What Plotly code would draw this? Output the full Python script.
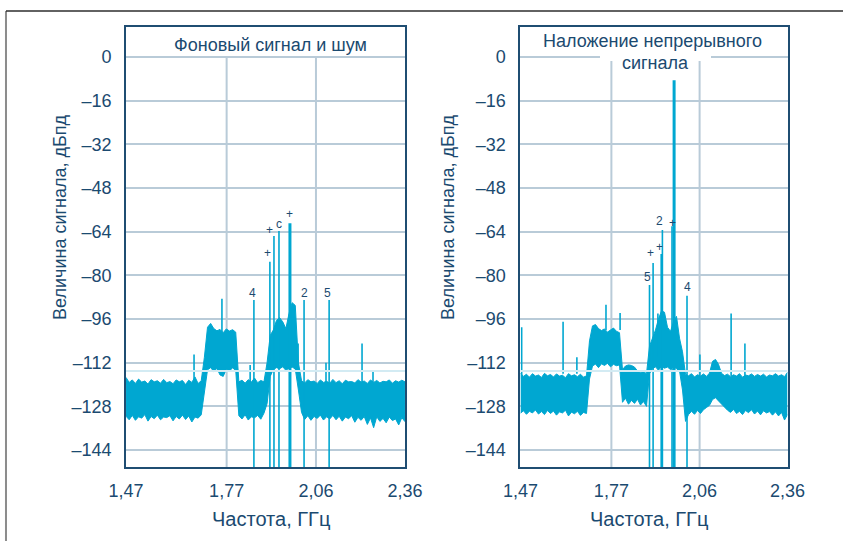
import plotly.graph_objects as go

# ---------------------------------------------------------------- data
# frequency grid of the spectrum envelope, GHz
freq = [
    1.47, 1.48, 1.49, 1.50, 1.51, 1.52, 1.53, 1.54, 1.55, 1.56,
    1.57, 1.58, 1.59, 1.60, 1.61, 1.62, 1.63, 1.64, 1.65, 1.66,
    1.67, 1.68, 1.69, 1.70, 1.71, 1.72, 1.73, 1.74, 1.75, 1.76,
    1.77, 1.78, 1.79, 1.80, 1.81, 1.82, 1.83, 1.84, 1.85, 1.86,
    1.87, 1.88, 1.89, 1.90, 1.91, 1.92, 1.93, 1.94, 1.95, 1.96,
    1.97, 1.98, 1.99, 2.00, 2.01, 2.02, 2.03, 2.04, 2.05, 2.06,
    2.07, 2.08, 2.09, 2.10, 2.11, 2.12, 2.13, 2.14, 2.15, 2.16,
    2.17, 2.18, 2.19, 2.20, 2.21, 2.22, 2.23, 2.24, 2.25, 2.26,
    2.27, 2.28, 2.29, 2.30, 2.31, 2.32, 2.33, 2.34, 2.35, 2.36,
]

# background signal and noise: upper / lower edge of the spectrum band, dBFS
bg_upper = [
    -117.4, -119.2, -118.3, -119.6, -118.0, -119.1, -118.7, -119.8, -118.2, -119.0,
    -118.6, -119.5, -118.1, -119.3, -118.9, -119.7, -118.3, -119.0, -118.5, -120.0,
    -118.4, -119.2, -117.2, -119.6, -118.6, -110.0, -99.0, -97.6, -99.5, -100.3,
    -99.8, -101.0, -99.6, -100.4, -99.9, -100.8, -119.0, -118.4, -119.5, -118.2,
    -119.1, -117.6, -119.3, -118.5, -119.0, -112.0, -102.0, -100.0, -96.5, -95.5,
    -97.0, -99.5, -94.0, -90.0, -91.0, -112.0, -118.6, -119.4, -118.2, -119.0,
    -118.7, -119.6, -118.3, -119.2, -118.8, -119.5, -118.1, -119.3, -118.6, -119.7,
    -118.4, -119.0, -118.9, -119.4, -118.2, -119.1, -118.7, -119.6, -118.3, -119.2,
    -118.5, -119.4, -118.8, -119.0, -118.3, -119.5, -118.6, -119.1, -118.4, -119.0,
]
bg_lower = [
    -131.6, -132.9, -131.3, -133.1, -131.8, -132.3, -131.0, -133.4, -131.7, -132.5,
    -131.2, -132.9, -131.9, -132.1, -131.4, -133.3, -131.7, -132.6, -131.2, -132.8,
    -131.5, -133.7, -131.9, -132.3, -131.1, -122.0, -114.6, -113.8, -115.2, -114.1,
    -116.5, -117.0, -114.4, -115.0, -113.9, -114.8, -131.4, -132.6, -131.1, -133.0,
    -131.8, -132.2, -131.3, -132.7, -130.5, -127.0, -117.0, -114.5, -113.8, -114.2,
    -113.5, -114.8, -114.0, -113.6, -114.3, -122.0, -130.2, -132.8, -131.4, -133.1,
    -131.7, -132.4, -131.2, -133.0, -131.8, -132.6, -131.3, -132.9, -131.6, -133.4,
    -131.9, -132.5, -131.4, -133.8, -132.0, -133.1, -131.7, -134.6, -132.2, -135.8,
    -131.8, -133.5, -132.4, -134.0, -131.9, -133.2, -132.6, -134.8, -132.1, -133.6,
]

# with the continuous-wave tone applied
cw_upper = [
    -115.8, -117.0, -116.2, -117.3, -116.0, -116.9, -116.5, -117.4, -115.9, -116.8,
    -116.3, -117.2, -116.1, -116.9, -116.6, -117.5, -116.0, -116.8, -116.4, -117.1,
    -116.2, -117.3, -116.8, -104.0, -98.5, -98.0, -99.5, -100.2, -99.6, -100.8,
    -100.0, -99.3, -100.5, -101.0, -114.5, -113.2, -112.8, -113.0, -113.6, -115.0,
    -115.6, -115.2, -116.0, -106.0, -103.0, -100.0, -96.0, -93.0, -93.5, -99.0,
    -100.5, -97.0, -95.0, -103.0, -108.0, -116.2, -116.8, -116.0, -117.2, -116.4,
    -116.9, -116.1, -117.0, -115.8, -111.5, -110.8, -112.6, -115.9, -116.7, -116.2,
    -117.1, -116.4, -116.9, -116.0, -117.3, -116.5, -116.8, -116.1, -117.0, -116.3,
    -116.9, -116.2, -117.2, -116.5, -116.8, -116.0, -116.9, -116.4, -117.1, -115.5,
]
cw_lower = [
    -130.5, -129.6, -130.9, -129.8, -130.4, -129.3, -130.8, -129.9, -131.0, -129.5,
    -130.6, -129.7, -131.2, -130.0, -130.4, -129.4, -131.5, -130.1, -130.7, -129.8,
    -131.3, -130.2, -130.6, -118.0, -113.2, -112.5, -113.8, -112.4, -113.0, -112.2,
    -113.5, -112.6, -113.1, -112.8, -126.5, -125.0, -127.2, -125.8, -126.9, -125.4,
    -127.5, -126.2, -128.0, -116.0, -114.2, -113.5, -114.8, -113.2, -114.0, -113.6,
    -114.5, -113.4, -114.2, -115.0, -122.0, -133.5, -131.0, -129.8, -130.9, -129.5,
    -130.6, -129.2, -128.4, -127.6, -125.5, -124.8, -126.0, -127.2, -128.5, -129.4,
    -130.2, -129.1, -130.6, -129.8, -131.0, -129.5, -130.3, -129.2, -130.8, -129.7,
    -131.1, -129.6, -130.4, -129.9, -131.2, -130.0, -131.5, -130.2, -133.0, -131.0,
]

# discrete spurs: frequency, peak level and the level the line starts from
bg_spur_freq = [1.687, 1.776, 1.866, 1.878, 1.929, 1.942, 1.958, 2.019, 2.038, 2.108, 2.118, 2.223, 2.258]
bg_spur_peak = [-109.0, -88.6, -112.8, -89.0, -75.0, -65.6, -63.7, -105.0, -89.0, -112.0, -89.0, -105.0, -115.0]
bg_spur_base = [-118.0, -112.0, -120.0, -160.0, -160.0, -160.0, -160.0, -118.0, -160.0, -120.0, -160.0, -120.0, -120.0]
bg_main_freq = [1.993]
bg_main_peak = [-60.9]

cw_spur_freq = [1.474, 1.612, 1.658, 1.755, 1.802, 1.900, 1.912, 1.928, 1.939, 1.943, 1.975, 2.025, 2.068, 2.172, 2.218]
cw_spur_peak = [-99.0, -97.0, -110.0, -90.8, -93.8, -83.5, -75.5, -94.0, -72.2, -63.4, -62.0, -87.5, -109.0, -94.0, -105.0]
cw_spur_base = [-118.0, -116.0, -116.0, -100.0, -100.0, -160.0, -160.0, -110.0, -160.0, -160.0, -160.0, -160.0, -117.0, -117.0, -117.0]
cw_main_freq = [1.982]
cw_main_peak = [-8.5]

# spur markers
bg_mark_text = ["+", "+", "c", "+", "4", "2", "5"]
bg_mark_freq = [1.920, 1.929, 1.958, 1.993, 1.875, 2.038, 2.114]
bg_mark_level = [-71.8, -63.4, -61.2, -57.5, -86.5, -86.5, -86.5]

cw_mark_text = ["5", "+", "+", "2", "+", "4"]
cw_mark_freq = [1.892, 1.905, 1.932, 1.935, 1.975, 2.025]
cw_mark_level = [-80.6, -71.8, -69.6, -60.1, -60.8, -84.3]

ref_level = -115.0

# axes
y_ticks = [0, -16, -32, -48, -64, -80, -96, -112, -128, -144]
y_ticktext = ["0" if v == 0 else "\u2013" + str(-v) for v in y_ticks]
x_ticktext = ["1,47", "1,77", "2,06", "2,36"]
bg_x_ticks = [1.47, 1.791, 2.076, 2.36]
cw_x_ticks = [1.47, 1.773, 2.067, 2.36]

# ---------------------------------------------------------------- style
CYAN = "#00a7d1"
NAVY = "#1b4a70"
GRID = "#b9cbd8"
FRAME = "#1f4d72"
FONT = "Liberation Sans, Arial, sans-serif"
X_RANGE = [1.47, 2.36]
Y_RANGE = [-150.2, 11.0]

fig = go.Figure()


def spur_xy(freqs, peaks, bases):
    xs, ys = [], []
    for f, p, b in zip(freqs, peaks, bases):
        xs += [f, f, None]
        ys += [b, p, None]
    return xs, ys


def add_panel(xa, ya, upper, lower, sf, sp, sb, mf, mp):
    fig.add_trace(go.Scatter(x=freq, y=lower, xaxis=xa, yaxis=ya, mode="lines",
                             line=dict(color=CYAN, width=1), hoverinfo="skip"))
    fig.add_trace(go.Scatter(x=freq, y=upper, xaxis=xa, yaxis=ya, mode="lines",
                             line=dict(color=CYAN, width=1), fill="tonexty",
                             fillcolor=CYAN, hoverinfo="skip"))
    xs, ys = spur_xy(sf, sp, sb)
    fig.add_trace(go.Scatter(x=xs, y=ys, xaxis=xa, yaxis=ya, mode="lines",
                             line=dict(color=CYAN, width=1.6), hoverinfo="skip"))
    xs, ys = spur_xy(mf, mp, [-160.0] * len(mf))
    fig.add_trace(go.Scatter(x=xs, y=ys, xaxis=xa, yaxis=ya, mode="lines",
                             line=dict(color=CYAN, width=3), hoverinfo="skip"))


add_panel("x", "y", bg_upper, bg_lower, bg_spur_freq, bg_spur_peak, bg_spur_base,
          bg_main_freq, bg_main_peak)
add_panel("x2", "y2", cw_upper, cw_lower, cw_spur_freq, cw_spur_peak, cw_spur_base,
          cw_main_freq, cw_main_peak)

xcommon = dict(range=X_RANGE, showgrid=False, zeroline=False, showline=True, mirror=True,
               linecolor=FRAME, linewidth=2, ticks="", ticktext=x_ticktext, automargin=False,
               tickfont=dict(family=FONT, size=18, color=NAVY), ticklabelstandoff=6)
ycommon = dict(range=Y_RANGE, tickvals=y_ticks, ticktext=y_ticktext, showgrid=True,
               gridcolor=GRID, gridwidth=2, zeroline=False, showline=True, mirror=True,
               linecolor=FRAME, linewidth=2, ticks="", automargin=False,
               tickfont=dict(family=FONT, size=18, color=NAVY), ticklabelstandoff=9)

fig.update_layout(
    width=843, height=541, margin=dict(l=0, r=0, t=0, b=0, pad=0, autoexpand=False),
    paper_bgcolor="white", plot_bgcolor="white", showlegend=False,
    xaxis=dict(domain=[0.1495, 0.4804], anchor="y", tickvals=bg_x_ticks, **xcommon),
    yaxis=dict(domain=[0.1368, 0.9501], anchor="x", **ycommon),
    xaxis2=dict(domain=[0.6174, 0.9342], anchor="y2", tickvals=cw_x_ticks, **xcommon),
    yaxis2=dict(domain=[0.1368, 0.9501], anchor="x2", **ycommon),
)

shapes = []
# vertical grid lines start at the 0 dBFS line
for xa, ya, ticks in (("x", "y", bg_x_ticks), ("x2", "y2", cw_x_ticks)):
    for t in ticks[1:-1]:
        shapes.append(dict(type="line", xref=xa, yref=ya, x0=t, x1=t, y0=0, y1=Y_RANGE[0],
                           line=dict(color=GRID, width=2), layer="between"))
# white box behind the second title line of the right panel
shapes.append(dict(type="rect", xref="x2", yref="y2", x0=1.735, x1=2.105, y0=-1.5, y1=Y_RANGE[1],
                   line=dict(width=0), fillcolor="white", layer="between"))
# reference level
for xa, ya in (("x", "y"), ("x2", "y2")):
    shapes.append(dict(type="line", xref=xa, yref=ya, x0=X_RANGE[0], x1=X_RANGE[1],
                       y0=ref_level, y1=ref_level, line=dict(color="#d3ebf3", width=2),
                       layer="above"))
# outer border
shapes.append(dict(type="line", xref="paper", yref="paper", x0=0.0071, x1=0.0071, y0=0, y1=0.9797,
                   line=dict(color="#8c8c8c", width=2)))
shapes.append(dict(type="line", xref="paper", yref="paper", x0=0.0071, x1=1.0, y0=0.9797, y1=0.9797,
                   line=dict(color="#2e2e2e", width=1.5)))
fig.update_layout(shapes=shapes)


def label(text, x, y, size=18, angle=0, xref="paper", yref="paper"):
    return dict(text=text, xref=xref, yref=yref, x=x, y=y, xanchor="center", yanchor="middle",
                textangle=angle, showarrow=False, font=dict(family=FONT, size=size, color=NAVY))


ann = [
    label("Фоновый сигнал и шум", 0.3203, 0.9168),
    label("Наложение непрерывного", 0.7746, 0.9242),
    label("сигнала", 0.7776, 0.8835),
]
for x in (0.0712, 0.5314):
    ann.append(label("Величина сигнала, дБпд", x, 0.599, angle=-90))
for x in (0.3215, 0.770):
    ann.append(label("Частота, ГГц", x, 0.0407, size=20))
for xa, ya, texts, fs, ls in (("x", "y", bg_mark_text, bg_mark_freq, bg_mark_level),
                              ("x2", "y2", cw_mark_text, cw_mark_freq, cw_mark_level)):
    for t, f, l in zip(texts, fs, ls):
        ann.append(label(t, f, l, size=12, xref=xa, yref=ya))
fig.update_layout(annotations=ann)

fig.write_html("out.html")
